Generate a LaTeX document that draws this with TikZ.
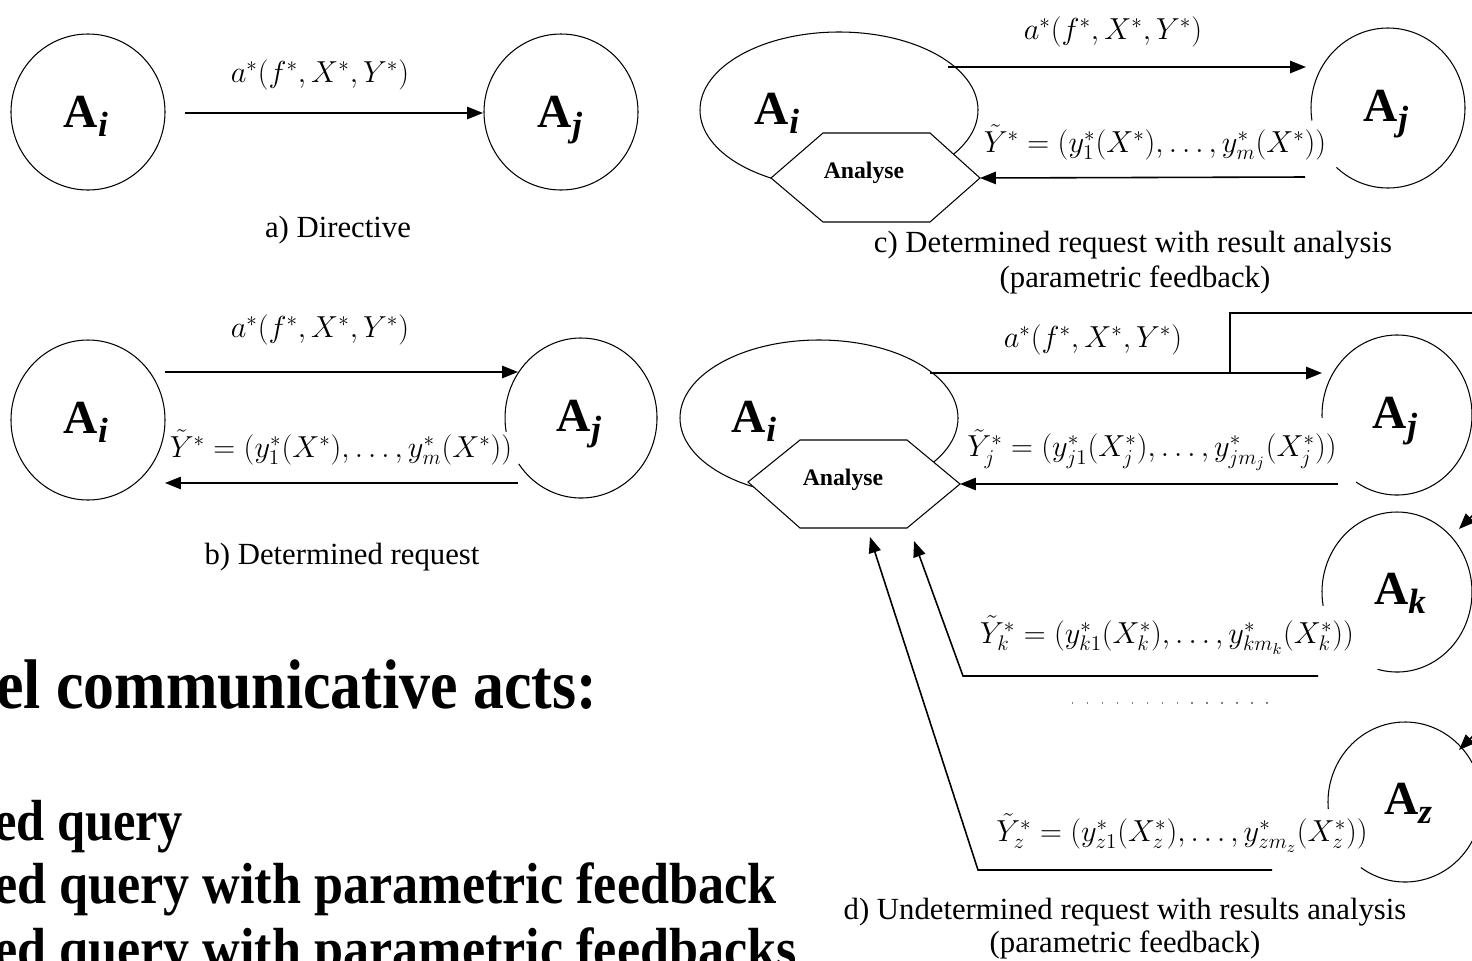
\documentclass[tikz,border=0pt]{standalone}
\usepackage{fontspec}
\setmainfont{Liberation Serif}
\usetikzlibrary{arrows.meta}
\newcommand\agname[1]{\fontsize{27}{30}\selectfont\bfseries A\raisebox{-0.2em}{\fontsize{20}{22}\selectfont\bfseries\itshape #1}}
\tikzset{
  every node/.style={inner sep=0pt, outer sep=0pt},
  circ/.style={line width=0.6pt},
  ln/.style={line width=0.9pt},
  arr/.style={ln, -{Triangle[length=9pt,width=7pt]}},
  lab/.style={font=\fontsize{17.5}{21}\selectfont},
  agl/.style={anchor=base},
  anl/.style={font=\fontsize{13.5}{16}\selectfont\bfseries},
  hexa/.style={circ, fill=white},
  big/.style={anchor=base west, font=\fontsize{40}{48}\selectfont\bfseries},
  lst/.style={anchor=base west, font=\fontsize{33}{40}\selectfont\bfseries},
  dots/.style={line width=0.8pt, gray, dash pattern=on 0.8pt off 7.7pt},
}
\begin{document}
\begin{tikzpicture}[x=0.02cm,y=0.02cm]
\useasboundingbox[fill=white] (0,0) rectangle (1472,-961);

% ---------------- (a) Directive
\draw[circ] (88,-112) ellipse [x radius=77, y radius=78];
\draw[circ] (561,-112) ellipse [x radius=77, y radius=78];
\node[agl] (Aia) at (86,-127) {\agname{i}};
\node[agl] (Aja) at (560,-127) {\agname{j}};
\coordinate (a1s) at (185,-113);
\coordinate (a1e) at (483,-113);
\draw[arr] (a1s) -- (a1e);
\node[lab] (la) at (320,-75) {$a^{*}(f^{*},X^{*},Y^{*})$};
\node[lab] (capa) at (338,-230) {a) Directive};

% ---------------- (b) Determined request
\draw[circ] (88,-420) ellipse [x radius=77, y radius=80];
\node[agl] (Aib) at (86,-433) {\agname{i}};
\draw[circ] (581,-418) ++(215:76 and 80) arc[start angle=215, end angle=550, x radius=76, y radius=80];
\node[agl] (Ajb) at (579,-431) {\agname{j}};
\coordinate (b1s) at (165,-372);
\coordinate (b1e) at (518,-372);
\coordinate (b2s) at (518,-483);
\coordinate (b2e) at (165,-483);
\draw[arr] (b1s) -- (b1e);
\draw[arr] (b2s) -- (b2e);
\node[lab] (lb1) at (320,-330) {$a^{*}(f^{*},X^{*},Y^{*})$};
\node[lab] (lb2) at (341,-447) {$\tilde{Y}^{*}=(y_{1}^{*}(X^{*}),\ldots,y_{m}^{*}(X^{*}))$};
\node[lab] (capb) at (342,-557) {b) Determined request};

% ---------------- (c) Determined request with result analysis
\draw[circ] (839,-110) ellipse [x radius=139, y radius=78];
\draw[hexa] (771,-178) -- (823,-133) -- (930,-133) -- (980,-178) -- (930,-222) -- (823,-222) -- cycle;
\node[anl] (anc) at (864,-173) {Analyse};
\node[agl] (Aic) at (777,-124) {\agname{i}};
\draw[circ] (1388,-108) ++(228:77 and 80) arc[start angle=228, end angle=549, x radius=77, y radius=80];
\node[agl] (Ajc) at (1386,-121) {\agname{j}};
\coordinate (c1s) at (948,-67);
\coordinate (c1e) at (1306,-67);
\coordinate (c2s) at (1305,-177);
\coordinate (c2e) at (980,-178);
\draw[arr] (c1s) -- (c1e);
\draw[arr] (c2s) -- (c2e);
\node[lab] (lc1) at (1113,-32) {$a^{*}(f^{*},X^{*},Y^{*})$};
\node[lab] (lc2) at (1155,-142) {$\tilde{Y}^{*}=(y_{1}^{*}(X^{*}),\ldots,y_{m}^{*}(X^{*}))$};
\node[lab] (capc1) at (1133,-245) {c) Determined request with result analysis};
\node[lab] (capc2) at (1135,-280) {(parametric feedback)};

% ---------------- (d) Undetermined request with results analysis
\draw[circ] (819,-418) ellipse [x radius=139, y radius=78];
\draw[hexa] (748,-482) -- (800,-440) -- (907,-440) -- (960,-484) -- (907,-528) -- (800,-528) -- cycle;
\node[anl] (and) at (843,-480) {Analyse};
\node[agl] (Aid) at (754,-432) {\agname{i}};

\draw[circ] (1397,-415) ++(237:75 and 80) arc[start angle=237, end angle=542, x radius=75, y radius=80];
\node[agl] (Ajd) at (1395,-428) {\agname{j}};
\draw[circ] (1397,-592) ++(255:75 and 80) arc[start angle=255, end angle=550, x radius=75, y radius=80];
\node[agl] (Akd) at (1400,-604) {\agname{k}};
\draw[circ] (1405,-802) ++(235:77 and 80) arc[start angle=235, end angle=545, x radius=77, y radius=80];
\node[agl] (Azd) at (1408,-814) {\agname{z}};

\coordinate (d1s) at (930,-373);
\coordinate (d1e) at (1322,-373);
\coordinate (bus0) at (1230,-373);
\coordinate (bus1) at (1230,-313);
\coordinate (bus2) at (1480,-313);
\draw[arr] (d1s) -- (d1e);
\draw[ln] (bus0) -- (bus1) -- (bus2);
\node[lab] (ld1) at (1093,-340) {$a^{*}(f^{*},X^{*},Y^{*})$};

\coordinate (dks) at (1482,-506);
\coordinate (dke) at (1459,-529);
\draw[arr] (dks) -- (dke);
\coordinate (dzs) at (1482,-727);
\coordinate (dze) at (1459,-750);
\draw[arr] (dzs) -- (dze);

\coordinate (j2s) at (1338,-484);
\coordinate (j2e) at (960,-484);
\draw[arr] (j2s) -- (j2e);
\node[lab] (ldj) at (1152,-450) {$\tilde{Y}_{j}^{*}=(y_{j1}^{*}(X_{j}^{*}),\ldots,y_{jm_{j}}^{*}(X_{j}^{*}))$};

\coordinate (k2s) at (1318,-676);
\coordinate (k2m) at (963,-676);
\coordinate (k2e) at (914,-541);
\draw[arr] (k2s) -- (k2m) -- (k2e);
\node[lab] (ldk) at (1167,-635) {$\tilde{Y}_{k}^{*}=(y_{k1}^{*}(X_{k}^{*}),\ldots,y_{km_{k}}^{*}(X_{k}^{*}))$};

\coordinate (dt1) at (1072,-703);
\coordinate (dt2) at (1280,-703);
\draw[dots] (dt1) -- (dt2);

\coordinate (z2s) at (1272,-870);
\coordinate (z2m) at (978,-870);
\coordinate (z2e) at (870,-537);
\draw[arr] (z2s) -- (z2m) -- (z2e);
\node[lab] (ldz) at (1182,-833) {$\tilde{Y}_{z}^{*}=(y_{z1}^{*}(X_{z}^{*}),\ldots,y_{zm_{z}}^{*}(X_{z}^{*}))$};

\node[lab] (capd1) at (1125,-912) {d) Undetermined request with results analysis};
\node[lab] (capd2) at (1125,-945) {(parametric feedback)};

% ---------------- bottom-left text
\node[big] (head) at (-4,-708) {\scalebox{0.88}[1]{el communicative acts:}};
\node[lst] (l1) at (-6,-840) {\scalebox{0.87}[1]{ed query}};
\node[lst] (l2) at (-6,-903) {\scalebox{0.9}[1]{ed query with parametric feedback}};
\node[lst] (l3) at (-6,-968) {\scalebox{0.9}[1]{ed query with parametric feedbacks}};
\end{tikzpicture}
\end{document}
